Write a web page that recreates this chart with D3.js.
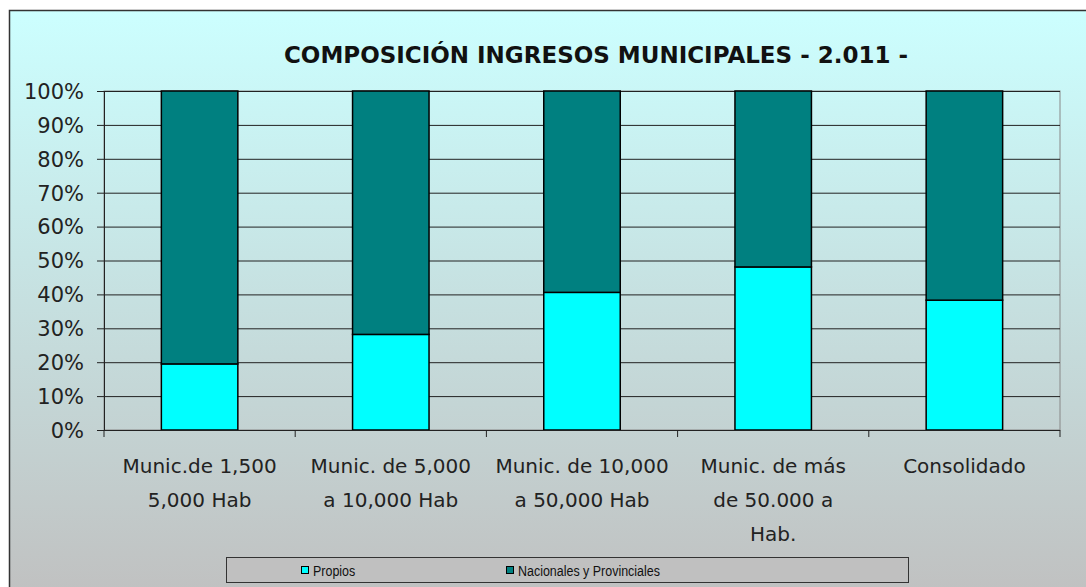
<!DOCTYPE html>
<html><head><meta charset="utf-8">
<script src="https://cdn.jsdelivr.net/npm/d3@7"></script>
<style>body{margin:0;background:#fff}</style>
</head><body>
<svg id="c" width="1086" height="587"></svg>
<script>
const categories = [["Munic.de 1,500","5,000 Hab"],["Munic. de 5,000","a 10,000 Hab"],["Munic. de 10,000","a 50,000 Hab"],["Munic. de más","de 50.000 a","Hab."],["Consolidado"]];
const propios = [19.5, 28.2, 40.6, 48.1, 38.3];
const nacionales = propios.map(v => 100 - v);
const yTicks = [0,10,20,30,40,50,60,70,80,90,100];
const seriesNames = ["Propios","Nacionales y Provinciales"];
const colors = ["#00ffff","#008080"];

const svg = d3.select("#c");
const defs = svg.append("defs");
const g1 = defs.append("linearGradient").attr("id","bg").attr("x1",0).attr("y1",0).attr("x2",0).attr("y2",1);
g1.append("stop").attr("offset","0%").attr("stop-color","#ccffff");
g1.append("stop").attr("offset","100%").attr("stop-color","#c0c0c0");

svg.append("rect").attr("x",9.5).attr("y",10.5).attr("width",1090).attr("height",590)
  .attr("fill","url(#bg)").attr("stroke","#333").attr("stroke-width",1.5);

const font = "'DejaVu Sans', sans-serif";
svg.append("text").attr("x",596).attr("y",63).attr("text-anchor","middle")
  .attr("font-family",font).attr("font-weight","bold").attr("font-size",23).attr("fill","#111")
  .text("COMPOSICIÓN INGRESOS MUNICIPALES - 2.011 -");

const L=104, R=1060, T=91, B=430;
const x = d3.scaleBand().domain(d3.range(categories.length)).range([L,R]).paddingInner(0).paddingOuter(0);
const y = d3.scaleLinear().domain([0,100]).range([B,T]);

svg.append("rect").attr("x",L).attr("y",T).attr("width",R-L).attr("height",B-T)
  .attr("fill","none").attr("stroke","#888").attr("stroke-width",1);

// gridlines
svg.append("g").selectAll("line").data(yTicks.filter(d=>d>0)).join("line")
  .attr("x1",L).attr("x2",R).attr("y1",d=>y(d)+0.5).attr("y2",d=>y(d)+0.5)
  .attr("stroke","#222").attr("stroke-width",1);

const barW = x.bandwidth()*0.4;
const bx = i => x(i) + (x.bandwidth()-barW)/2;
const gb = svg.append("g");
gb.selectAll("rect.p").data(propios).join("rect").attr("class","p")
  .attr("x",(d,i)=>bx(i)).attr("width",barW).attr("y",d=>y(d)).attr("height",d=>B-y(d))
  .attr("fill",colors[0]).attr("stroke","#000").attr("stroke-width",1.5);
gb.selectAll("rect.n").data(nacionales).join("rect").attr("class","n")
  .attr("x",(d,i)=>bx(i)).attr("width",barW).attr("y",(d,i)=>y(propios[i]+d)).attr("height",(d,i)=>y(propios[i])-y(propios[i]+d))
  .attr("fill",colors[1]).attr("stroke","#000").attr("stroke-width",1.5);

// y axis
const ya = svg.append("g").attr("transform",`translate(${L},0)`)
  .call(d3.axisLeft(y).tickValues(yTicks).tickFormat(d=>d+"%").tickSize(7).tickPadding(13));
ya.select(".domain").attr("stroke","#222");
ya.selectAll(".tick line").attr("stroke","#222");
ya.selectAll("text").attr("font-family",font).attr("font-size",21).attr("fill","#222").attr("dy","0.35em");

// x axis
const xa = svg.append("g").attr("transform",`translate(0,${B})`);
xa.append("line").attr("x1",L).attr("x2",R).attr("y1",0.5).attr("y2",0.5).attr("stroke","#222");
xa.selectAll("line.t").data(d3.range(categories.length+1)).join("line").attr("class","t")
  .attr("x1",i=> i<categories.length ? x(i) : R).attr("x2",i=> i<categories.length ? x(i) : R)
  .attr("y1",0).attr("y2",7).attr("stroke","#222");
const lab = xa.selectAll("text").data(categories).join("text")
  .attr("text-anchor","middle").attr("font-family",font).attr("font-size",20).attr("fill","#222");
lab.each(function(lines,i){
  d3.select(this).selectAll("tspan").data(lines).join("tspan")
    .attr("x",x(i)+x.bandwidth()/2).attr("y",(d,j)=>43+j*34).text(d=>d);
});

// legend
const lg = svg.append("g");
lg.append("rect").attr("x",226.5).attr("y",557.5).attr("width",682).attr("height",25)
  .attr("fill","#c0c0c0").attr("stroke","#333");
const lx = [301,506];
seriesNames.forEach((n,i)=>{
  lg.append("rect").attr("x",lx[i]+0.5).attr("y",566.5).attr("width",7).attr("height",7)
    .attr("fill",colors[i]).attr("stroke","#000");
  lg.append("text").attr("transform",`translate(${lx[i]+12},575.5) scale(0.89,1)`)
    .attr("font-family","'Liberation Sans', Arial, sans-serif")
    .attr("font-size",14).attr("fill","#111").text(n);
});
</script>
</body></html>
